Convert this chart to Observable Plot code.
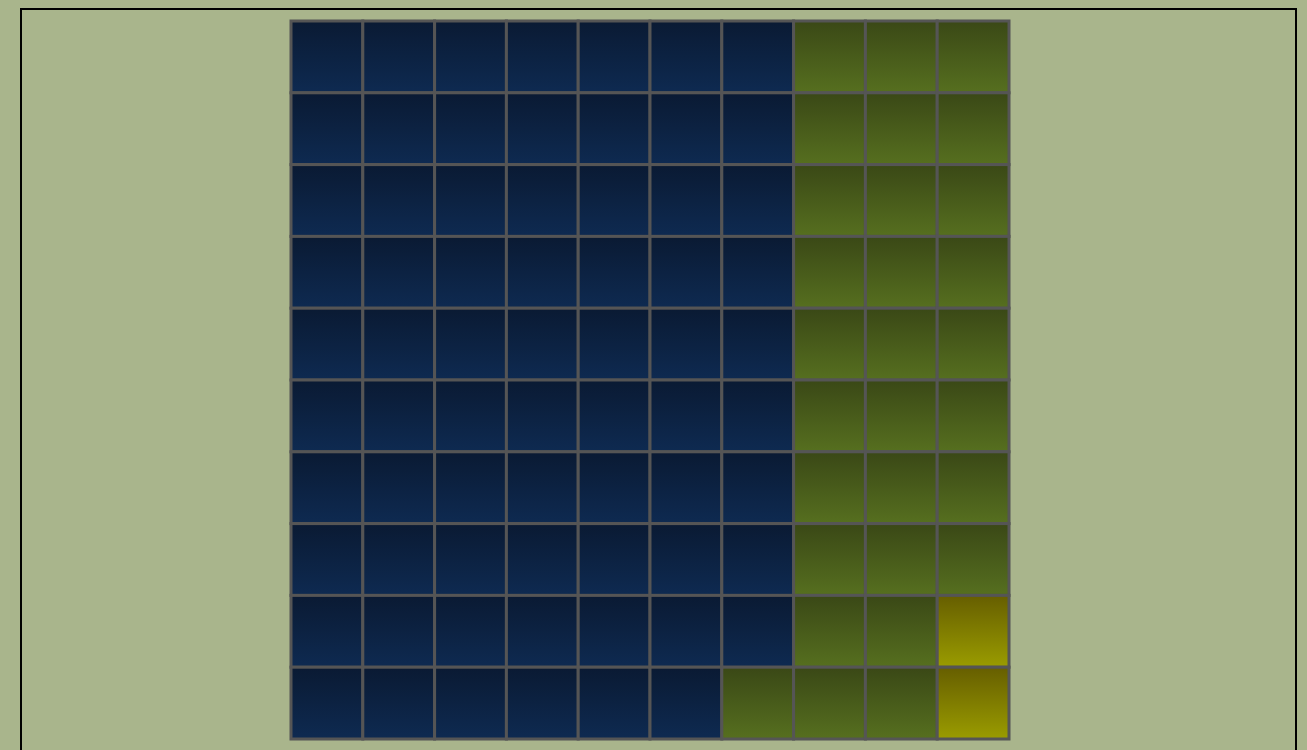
<!DOCTYPE html>
<html>
<head>
<meta charset="utf-8">
<script src="https://cdn.jsdelivr.net/npm/d3@7"></script>
<script src="https://cdn.jsdelivr.net/npm/@observablehq/plot@0.6"></script>
<style>
  html, body { margin: 0; padding: 0; background: #a9b58c; overflow: hidden; }
  body { width: 1307px; height: 750px; position: relative; font-family: "DejaVu Sans", sans-serif; }
  #frame { position: absolute; left: 20px; top: 8px; width: 1273px; height: 800px; border: 2px solid #000; box-sizing: content-box; }
  #chart { position: absolute; left: 289px; top: 19px; }
  #chart svg { background: transparent; display: block; }
</style>
</head>
<body>
<div id="frame"></div>
<div id="chart"></div>
<script>
// Waffle data: 100 squares split into three categories
const categories = ["A", "B", "C"];
const values = [69, 29, 2];
const gradientIds = ["gA", "gB", "gC"];
const gridRows = 10;
const gridCols = 10;

// Build the waffle cells, filled column by column from top-left
const cells = [];
let k = 0;
categories.forEach((cat, ci) => {
  for (let i = 0; i < values[ci]; i++, k++) {
    cells.push({col: Math.floor(k / gridRows), row: k % gridRows, cat});
  }
});

const gradStops = {
  gA: ["#0a1a33", "#0e2a51"],
  gB: ["#3a4816", "#566f1f"],
  gC: ["#665e00", "#9a9c00"]
};

const plot = Plot.plot({
  width: 722,
  height: 722,
  margin: 2,
  x: {type: "band", domain: d3.range(gridCols), padding: 0, round: false, axis: null},
  y: {type: "band", domain: d3.range(gridRows), padding: 0, round: false, axis: null},
  style: {background: "transparent"},
  marks: categories.map((cat, ci) =>
    Plot.cell(cells.filter(d => d.cat === cat), {
      x: "col",
      y: "row",
      fill: `url(#${gradientIds[ci]})`,
      stroke: "#555555",
      strokeWidth: 3,
      inset: 0
    })
  )
});

const svg = d3.select(plot);
const defs = svg.insert("defs", ":first-child");
for (const id of gradientIds) {
  const g = defs.append("linearGradient")
    .attr("id", id).attr("x1", 0).attr("y1", 0).attr("x2", 0).attr("y2", 1);
  g.append("stop").attr("offset", "0%").attr("stop-color", gradStops[id][0]);
  g.append("stop").attr("offset", "100%").attr("stop-color", gradStops[id][1]);
}
document.getElementById("chart").appendChild(plot);
</script>
</body>
</html>
